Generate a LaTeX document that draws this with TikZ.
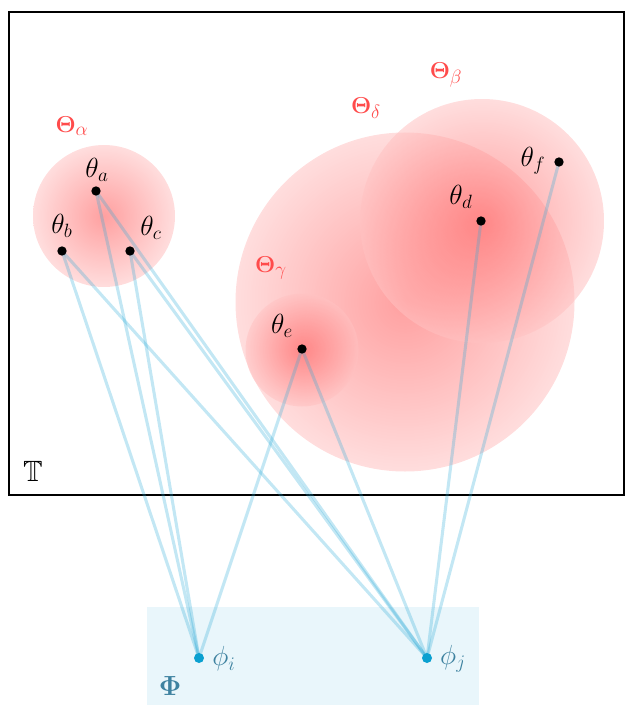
\documentclass[tikz,border=0pt]{standalone}
\usepackage{amsmath,amssymb,bm}
\definecolor{lnk}{RGB}{40,170,215}
\definecolor{redlab}{RGB}{255,75,75}
\definecolor{bluelab}{RGB}{62,130,160}
\definecolor{phibox}{RGB}{233,246,251}
\definecolor{phidot}{RGB}{10,160,208}
\begin{document}
\begin{tikzpicture}[x=0.75pt,y=-0.75pt,
  blob/.style={circle,draw=none,inner sep=0pt,fill opacity=0.55,inner color=red!68,outer color=red!24},
  pt/.style={circle,fill=black,inner sep=0pt,minimum size=7pt},
  phipt/.style={circle,fill=phidot,inner sep=0pt,minimum size=7.5pt},
  link/.style={draw=lnk,line width=2.3pt,draw opacity=0.28},
  tlab/.style={font=\fontsize{22}{26}\selectfont,inner sep=0pt},
  setlab/.style={font=\fontsize{19}{22}\selectfont,text=redlab,inner sep=0pt},
  plab/.style={font=\fontsize{21}{24}\selectfont,text=bluelab,inner sep=0pt}]
\useasboundingbox (0,0) rectangle (625,706);
% frame
\draw[line width=1.2pt] (9,12) rectangle (624,495);
\node[font=\fontsize{22}{26}\selectfont,inner sep=0pt] (T) at (33,471) {$\mathbb{T}$};
% sets
\node[blob,minimum size=106.5pt] (Ga) at (104,216) {};
\node[blob,minimum size=254.25pt] (Gd) at (405,302) {};
\node[blob,minimum size=183pt] (Gb) at (482,221) {};
\node[blob,minimum size=84.75pt] (Gg) at (302,350) {};
% Phi region
\fill[phibox] (147,607) rectangle (479,705);
% points
\coordinate (ca) at (96,191);
\coordinate (cb) at (62,251);
\coordinate (cc) at (130,251);
\coordinate (cd) at (481,221);
\coordinate (ce) at (302,349);
\coordinate (cf) at (559,162);
\coordinate (ci) at (199,658);
\coordinate (cj) at (427,658);
% links
\foreach \s in {ca,cb,cc,ce} \draw[link] (\s) -- (ci);
\foreach \s in {ca,cb,cc,cd,ce,cf} \draw[link] (\s) -- (cj);
% dots
\node[pt] (pa) at (ca) {};
\node[pt] (pb) at (cb) {};
\node[pt] (pc) at (cc) {};
\node[pt] (pd) at (cd) {};
\node[pt] (pe) at (ce) {};
\node[pt] (pf) at (cf) {};
\node[phipt] (pi) at (ci) {};
\node[phipt] (pj) at (cj) {};
% labels
\node[tlab] (la) at (97,170) {$\theta_a$};
\node[tlab] (lb) at (62,226) {$\theta_b$};
\node[tlab] (lc) at (151,228) {$\theta_c$};
\node[tlab] (ld) at (461,197) {$\theta_d$};
\node[tlab] (le) at (282,326) {$\theta_e$};
\node[tlab] (lf) at (533,161) {$\theta_f$};
\node[setlab] (Sa) at (72,126) {$\bm{\Theta}_{\alpha}$};
\node[setlab] (Sb) at (446,75) {$\bm{\Theta}_{\beta}$};
\node[setlab] (Sd) at (366,108) {$\bm{\Theta}_{\delta}$};
\node[setlab] (Sg) at (271,268) {$\bm{\Theta}_{\gamma}$};
\node[plab] (li) at (224,659) {$\phi_i$};
\node[plab] (lj) at (453,659) {$\phi_j$};
\node[plab,font=\fontsize{22}{26}\selectfont] (Phi) at (170,686) {$\bm{\Phi}$};
\end{tikzpicture}
\end{document}
